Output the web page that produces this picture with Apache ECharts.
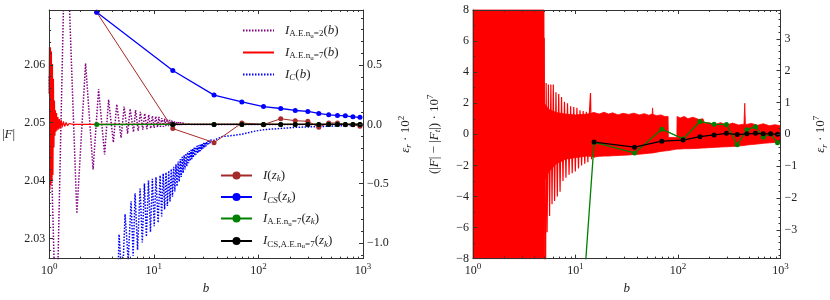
<!DOCTYPE html>
<html><head><meta charset="utf-8">
<script src="https://cdn.jsdelivr.net/npm/echarts@6/dist/echarts.min.js"></script>
<style>html,body{margin:0;padding:0;background:#fff}#c{width:830px;height:300px}</style>
</head><body><div id="c"></div>
<script>
// ---------------- data ----------------
const FT = 2.0497; // converged value |F_t|
// quadrature nodes z_k
const nodesB = [2.85, 15.2, 37.7, 69.5, 112, 163.5, 225, 297, 378, 470, 570, 678, 801, 935];
const I_zk   = [2.0691, 2.04899, 2.04656, 2.04996, 2.04967, 2.05069, 2.05035, 2.05025, 2.04923, 2.04996, 2.04996, 2.04967, 2.04967, 2.0494];
const ICS_zk = [2.0691, 2.05903, 2.05478, 2.0536, 2.0528, 2.05246, 2.05212, 2.05195, 2.05161, 2.05137, 2.05127, 2.0512, 2.05103, 2.05093];
// differences (|F|-|Ft|)*1e7
const AE7_zk_diff   = [-68, -0.52, -1.2, 0.33, -0.3, 0.82, 0.65, 0.63, -0.68, 0.3, 0.49, -0.19, 0.02, -0.54];
const CSAE7_zk_diff = [null, -0.5, -0.83, -0.44, -0.37, -0.15, -0.04, 0.06, -0.02, 0.03, 0.06, 0.04, 0.03, 0.0];

// I_A.E.nu=2(b), read peaks/troughs
const ae2B = [1.0, 1.17, 1.44, 1.84, 2.23, 2.63, 2.97, 3.39, 3.70, 4.11, 4.43, 4.87, 5.21, 5.62, 5.95, 6.40, 6.70, 7.10, 7.45, 7.85, 8.20, 8.60, 8.95, 9.35, 9.70, 10.1, 10.45, 10.85, 11.2, 11.6, 11.95, 12.35, 12.7, 13.1, 13.45, 13.85, 14.2, 14.6, 14.95, 15.35, 15.7, 16.1, 16.45, 16.85, 17.2, 17.6, 18.0, 18.4, 18.8, 19.2, 19.6, 20.0, 21, 23, 1000];
const ae2F = [2.058, 2.012, 2.088, 2.0343, 2.0603, 2.0419, 2.0558, 2.0445, 2.0540, 2.0466, 2.0532, 2.0474, 2.0528, 2.0481, 2.0524, 2.0484, 2.0522, 2.0486, 2.0519, 2.0488, 2.0516, 2.0489, 2.0514, 2.0490, 2.0512, 2.0491, 2.0511, 2.0492, 2.0510, 2.0493, 2.0508, 2.0493, 2.0507, 2.0494, 2.0506, 2.0494, 2.0505, 2.0494, 2.0504, 2.0495, 2.0503, 2.0495, 2.0502, 2.0496, 2.0501, 2.0496, 2.0501, 2.0496, 2.0500, 2.0497, 2.0500, 2.0497, 2.0498, 2.0497, 2.0497];

// I_A.E.nu=7(b) (left panel scale)
const ae7B = [1.0, 1.00662, 1.01775, 1.02900, 1.04038, 1.05188, 1.06350, 1.07526, 1.08714, 1.09916, 1.11130, 1.12359, 1.13601, 1.14856, 1.16125, 1.17667, 1.19230, 1.21345, 1.23230, 1.25415, 1.27361, 1.30192, 1.33088, 1.36947, 1.40611, 1.45327, 1.50203, 1.55243, 1.62228, 1.69528, 1.81104, 1000];
const ae7F = [2.0550, 2.06304, 2.03840, 2.06304, 2.03925, 2.06236, 2.03993, 2.06015, 2.04095, 2.05760, 2.04571, 2.05386, 2.04775, 2.05217, 2.04843, 2.05166, 2.04868, 2.05098, 2.04885, 2.05064, 2.04902, 2.05047, 2.04919, 2.05024, 2.04936, 2.05004, 2.04948, 2.04987, 2.04958, 2.04973, 2.04970, 2.04970];

// I_C(b)
const icB = [4.5, 4.66, 5.0, 5.32, 5.7, 6.07, 6.35, 6.63, 7.0, 7.4, 7.77, 8.14, 8.5, 8.9, 9.3, 9.7, 10.1, 10.5, 11.0, 11.5, 11.9, 12.3, 12.7, 13.1, 13.5, 13.9, 14.3, 14.7, 15.1, 15.5, 15.9, 16.3, 16.7, 17.1, 17.5, 17.9, 18.3, 18.7, 19.1, 19.5, 19.9, 20.3, 20.7, 21.1, 21.5, 21.9, 22.3, 22.7, 23.1, 23.5, 23.9, 24.3, 24.7, 25.1, 25.5, 25.9, 26.3, 26.7, 27.1, 27.5, 27.9, 28.3, 28.7, 29.1, 29.5, 30.0, 30.5, 31, 31.5, 32, 32.5, 33, 33.5, 34, 34.5, 35, 35.5, 36, 37, 38, 45, 57, 69, 90, 113, 160, 227, 480, 934, 1000];
const icF = [2.0200, 2.0307, 2.0220, 2.0342, 2.0262, 2.0364, 2.0270, 2.0378, 2.0280, 2.0386, 2.0293, 2.0395, 2.0303, 2.0400, 2.0311, 2.0403, 2.0321, 2.0406, 2.0327, 2.0409, 2.0338, 2.0412, 2.0350, 2.0414, 2.0356, 2.0417, 2.0364, 2.0420, 2.0372, 2.0424, 2.0381, 2.0428, 2.0390, 2.0433, 2.0398, 2.0437, 2.0406, 2.0441, 2.0413, 2.0444, 2.0419, 2.0447, 2.0425, 2.0449, 2.0430, 2.0451, 2.0434, 2.0453, 2.0437, 2.0455, 2.0440, 2.0457, 2.0443, 2.0458, 2.0445, 2.0460, 2.0447, 2.0461, 2.0449, 2.0462, 2.0451, 2.0463, 2.0453, 2.0464, 2.0455, 2.0465, 2.0457, 2.0466, 2.0459, 2.0467, 2.0461, 2.0468, 2.0463, 2.0469, 2.0465, 2.0470, 2.0467, 2.0471, 2.0469, 2.0472, 2.0476, 2.0478, 2.0480, 2.0485, 2.0488, 2.0490, 2.0492, 2.0494, 2.0496, 2.0496];

// right panel: (|F|-|Ft|)*1e7 of I_A.E.nu=7(b): solid core band + individual oscillation teeth
const coreB  = [1, 4.93, 4.95, 5.5, 6.5, 8, 10, 13, 15.2, 17, 19, 21, 23, 26, 29, 33, 37, 42, 47, 52, 56, 56.5, 57, 62, 68, 74, 80, 80.5, 97.5, 98, 105, 115, 125, 140, 160, 175, 182, 200, 230, 260, 300, 340, 390, 440, 448, 455, 520, 600, 680, 780, 880, 1000];
const coreHi = [20, 20, 2.0, 1.6, 1.4, 1.3, 1.25, 1.3, 1.4, 1.3, 1.42, 1.3, 1.38, 1.25, 1.35, 1.28, 1.36, 1.25, 1.33, 1.22, 1.3, 1.7, 1.28, 1.2, 1.25, 1.15, 1.15, -0.2, -0.2, 1.15, 1.05, 1.15, 1.0, 1.1, 0.95, 1.0, 0.7, 0.75, 0.62, 0.75, 0.6, 0.72, 0.6, 0.65, 2.0, 0.62, 0.7, 0.58, 0.68, 0.55, 0.62, 0.55];
const coreLo = [-20, -20, -3.0, -2.4, -1.9, -1.6, -1.5, -1.4, -1.45, -1.42, -1.4, -1.4, -1.38, -1.36, -1.35, -1.33, -1.3, -1.28, -1.25, -1.22, -1.2, -1.2, -1.2, -1.15, -1.1, -1.07, -1.05, -1.05, -0.95, -0.95, -0.95, -0.93, -0.93, -0.92, -0.9, -0.88, -0.88, -0.86, -0.84, -0.82, -0.8, -0.78, -0.75, -0.72, -0.72, -0.7, -0.66, -0.62, -0.58, -0.55, -0.52, -0.5];
const teethB = [4.950, 5.060, 5.171, 5.286, 5.441, 5.587, 5.748, 5.902, 6.073, 6.250, 6.446, 6.647, 6.856, 7.070, 7.307, 7.551, 7.805, 8.066, 8.355, 8.654, 8.964, 9.286, 9.619, 9.963, 10.32, 10.69, 11.07, 11.47, 11.88, 12.31, 12.75, 13.20, 13.68, 14.01, 14.35, 14.87, 15.37];
const teethV = [6.2, -20, 3.3, -6.3, 3.2, -5.25, 3.2, -4.5, 3.2, -4.3, 2.7, -4.0, 2.6, -3.7, 2.4, -3.0, 2.1, -2.8, 2.0, -2.6, 1.8, -2.5, 1.75, -2.4, 1.7, -2.2, 1.55, -2.0, 1.5, -1.9, 1.45, -1.8, 1.45, 2.66, -1.6, 1.4, -1.5];

// ticks
const xMajor = [1, 10, 100, 1000];
const xMinor = [2,3,4,5,6,7,8,9,20,30,40,50,60,70,80,90,200,300,400,500,600,700,800,900];
const fMajor = [2.03, 2.04, 2.05, 2.06];
const fMinor = [2.028, 2.032, 2.034, 2.036, 2.038, 2.042, 2.044, 2.046, 2.048, 2.052, 2.054, 2.056, 2.058, 2.062, 2.064, 2.066, 2.068];
const e2Major = [-1.0, -0.5, 0.0, 0.5];
const e2Minor = [-1.1, -0.9, -0.8, -0.7, -0.6, -0.4, -0.3, -0.2, -0.1, 0.1, 0.2, 0.3, 0.4, 0.6, 0.7, 0.8, 0.9];
const dMajor = [-8, -6, -4, -2, 0, 2, 4, 6, 8];
const dMinor = [-7, -5, -3, -1, 1, 3, 5, 7];
const e7Major = [-3, -2, -1, 0, 1, 2, 3];
const e7Minor = [-3.8, -3.6, -3.4, -3.2, -2.8, -2.6, -2.4, -2.2, -1.8, -1.6, -1.4, -1.2, -0.8, -0.6, -0.4, -0.2, 0.2, 0.4, 0.6, 0.8, 1.2, 1.4, 1.6, 1.8, 2.2, 2.4, 2.6, 2.8, 3.2, 3.4, 3.6, 3.8];

// ---------------- chart ----------------
const SERIF = '"Liberation Serif", "DejaVu Serif", serif';
const TXT = '#222', AX = '#333';
const RICH = {
  r:  {fontFamily: SERIF, fontSize: 13, color: TXT},
  i:  {fontFamily: SERIF, fontSize: 13, fontStyle: 'italic', color: TXT},
  s:  {fontFamily: SERIF, fontSize: 9, color: TXT, padding: [7, 0, 0, 0]},
  si: {fontFamily: SERIF, fontSize: 9, fontStyle: 'italic', color: TXT, padding: [7, 0, 0, 0]},
  ss: {fontFamily: SERIF, fontSize: 7, color: TXT, padding: [11, 0, 0, 0]},
  sup:{fontFamily: SERIF, fontSize: 9, color: TXT, padding: [0, 0, 8, 0]},
  n:  {fontFamily: SERIF, fontSize: 12, color: TXT},
  sp: {width: 6}
};
const minus = s => s.replace('-', '\u2212');
const pairs = (xs, ys) => xs.map((x, i) => [x, ys[i]]);

function xAxes(g) {
  const base = {type: 'log', logBase: 10, gridIndex: g, min: 1, max: 1000, splitLine: {show: false}, z: 5};
  return [
    Object.assign({}, base, {position: 'bottom',
      axisLine: {show: true, onZero: false, lineStyle: {color: AX, width: 1}},
      axisTick: {inside: true, length: 4, customValues: xMajor, lineStyle: {color: AX}},
      axisLabel: {customValues: xMajor, margin: 4, rich: RICH,
        formatter: v => '{n|10}{sup|' + Math.round(Math.log10(v)) + '}'},
      name: '{i|b}', nameLocation: 'middle', nameGap: 22, nameTextStyle: {rich: RICH}}),
    Object.assign({}, base, {position: 'top',
      axisLine: {show: true, onZero: false, lineStyle: {color: AX, width: 1}},
      axisTick: {inside: true, length: 4, customValues: xMajor, lineStyle: {color: AX}},
      axisLabel: {show: false}}),
    Object.assign({}, base, {position: 'bottom',
      axisLine: {show: false, onZero: false},
      axisTick: {inside: true, length: 2, customValues: xMinor, lineStyle: {color: AX}},
      axisLabel: {show: false}}),
    Object.assign({}, base, {position: 'top',
      axisLine: {show: false, onZero: false},
      axisTick: {inside: true, length: 2, customValues: xMinor, lineStyle: {color: AX}},
      axisLabel: {show: false}})
  ];
}
function yAxes(g, pos, min, max, major, minor, fmt, name, gap, rot) {
  const base = {type: 'value', gridIndex: g, min: min, max: max, position: pos, splitLine: {show: false}, z: 5};
  return [
    Object.assign({}, base, {
      axisLine: {show: true, onZero: false, lineStyle: {color: AX, width: 1}},
      axisTick: {inside: true, length: 4, customValues: major, lineStyle: {color: AX}},
      axisLabel: {customValues: major, margin: 4, formatter: fmt, fontFamily: SERIF, fontSize: 12, color: TXT},
      name: name, nameLocation: 'middle', nameGap: gap, nameRotate: rot, nameTextStyle: {rich: RICH}}),
    Object.assign({}, base, {
      axisLine: {show: false, onZero: false},
      axisTick: {inside: true, length: 2, customValues: minor, lineStyle: {color: AX}},
      axisLabel: {show: false}})
  ];
}

const E2MIN = (2.0265 - FT) / FT * 100, E2MAX = (2.0695 - FT) / FT * 100;
const E7 = 8 / FT;

const xAxis = xAxes(0).concat(xAxes(1));
const yAxis = [].concat(
  yAxes(0, 'left', 2.0265, 2.0695, fMajor, fMinor, v => v.toFixed(2), '{r||}{i|F}{r||}', 34, 0),
  yAxes(0, 'right', E2MIN, E2MAX, e2Major, e2Minor, v => minus(v.toFixed(1)), '{i|ε}{si|r}{r| · 10}{sup|2}', 34, 90),
  yAxes(1, 'left', -8, 8, dMajor, dMinor, v => minus(String(v)), '{r|(|}{i|F}{r|| − |}{i|F}{si|t}{r||) · 10}{sup|7}', 30, 90),
  yAxes(1, 'right', -E7, E7, e7Major, e7Minor, v => minus(String(v)), '{i|ε}{si|r}{r| · 10}{sup|7}', 32, 90)
);

const NAMES = {
  ae2: '{sp|}{i|I}{s|A.E.n}{ss|u}{s|=2}{r|(}{i|b}{r|)}',
  ae7: '{sp|}{i|I}{s|A.E.n}{ss|u}{s|=7}{r|(}{i|b}{r|)}',
  ic:  '{sp|}{i|I}{si|C}{r|(}{i|b}{r|)}',
  izk: '{sp|}{i|I}{r|(}{i|z}{si|k}{r|)}',
  ics: '{sp|}{i|I}{si|CS}{r|(}{i|z}{si|k}{r|)}',
  iae: '{sp|}{i|I}{s|A.E.n}{ss|u}{s|=7}{r|(}{i|z}{si|k}{r|)}',
  icsae: '{sp|}{i|I}{s|CS,A.E.n}{ss|u}{s|=7}{r|(}{i|z}{si|k}{r|)}'
};

const lineS = (name, x, y, data, color, extra) => Object.assign({
  name: name, type: 'line', xAxisIndex: x, yAxisIndex: y, data: data,
  symbol: 'none', showSymbol: false, animation: false, clip: true,
  lineStyle: {color: color, width: 1.2}, itemStyle: {color: color}
}, extra || {});
const ptS = (name, x, y, data, color, w) => lineS(name, x, y, data, color, {
  symbol: 'circle', showSymbol: true, symbolSize: 5, lineStyle: {color: color, width: w}
});

const clampV = v => Math.max(-8, Math.min(8, v));
const series = [
  lineS('ae2', 0, 0, pairs(ae2B, ae2F), '#800080', {lineStyle: {color: '#800080', width: 1.5, type: [1.5, 1.5]}}),
  lineS('ae7', 0, 0, pairs(ae7B, ae7F), '#ff0000', {lineStyle: {color: '#ff0000', width: 1.2}}),
  lineS('ic', 0, 0, pairs(icB, icF), '#0000ff', {lineStyle: {color: '#0000ff', width: 1.5, type: [1.5, 1.5]}}),
  ptS('izk', 0, 0, pairs(nodesB, I_zk), '#a52a2a', 1),
  ptS('ics', 0, 0, pairs(nodesB, ICS_zk), '#0000ff', 1.3),
  ptS('iae', 0, 0, nodesB.map((b, i) => [b, FT + AE7_zk_diff[i] * 1e-7]), '#008000', 1.3),
  ptS('icsae', 0, 0, nodesB.map((b, i) => [b, CSAE7_zk_diff[i] == null ? null : FT + CSAE7_zk_diff[i] * 1e-7]).filter(p => p[1] != null), '#000000', 1.3),
  // right panel
  {name: 'core_r', type: 'custom', xAxisIndex: 4, yAxisIndex: 4, data: [[1, 0]], animation: false, z: 1,
   renderItem: (params, api) => {
     const top = coreB.map((b, i) => api.coord([b, clampV(coreHi[i])]));
     const bot = coreB.map((b, i) => api.coord([b, clampV(coreLo[i])])).reverse();
     return {type: 'polygon', shape: {points: top.concat(bot)}, style: {fill: '#ff0000', stroke: '#ff0000', lineWidth: 0.8}};
   }},
  lineS('teeth_r', 4, 4, pairs(teethB, teethV), '#ff0000', {z: 1, lineStyle: {color: '#ff0000', width: 1.2}}),
  ptS('iae_r', 4, 4, pairs(nodesB, AE7_zk_diff), '#008000', 1.3),
  ptS('icsae_r', 4, 4, nodesB.map((b, i) => [b, CSAE7_zk_diff[i]]).filter(p => p[1] != null), '#000000', 1.3)
];

const legendText = {fontFamily: SERIF, fontSize: 13, color: TXT, rich: RICH};
const noSym = {opacity: 0};
const option = {
  animation: false,
  backgroundColor: '#fff',
  grid: [
    {left: 49, top: 10, width: 314, height: 253, containLabel: false},
    {left: 473, top: 10, width: 314, height: 253, containLabel: false}
  ],
  xAxis: xAxis,
  yAxis: yAxis,
  legend: [
    {data: [{name: 'ae2', itemStyle: noSym}, {name: 'ae7', itemStyle: noSym}, {name: 'ic', itemStyle: noSym}],
     orient: 'vertical', left: 237, top: 19, itemWidth: 31, itemHeight: 10, itemGap: 6.5,
     formatter: n => NAMES[n], textStyle: legendText},
    {data: ['izk', 'ics', 'iae', 'icsae'], orient: 'vertical', left: 215, top: 164, itemWidth: 31, itemHeight: 10, itemGap: 7,
     formatter: n => NAMES[n], textStyle: legendText}
  ],
  series: series
};
const chart = echarts.init(document.getElementById('c'));
chart.setOption(option);
</script>
</body></html>
